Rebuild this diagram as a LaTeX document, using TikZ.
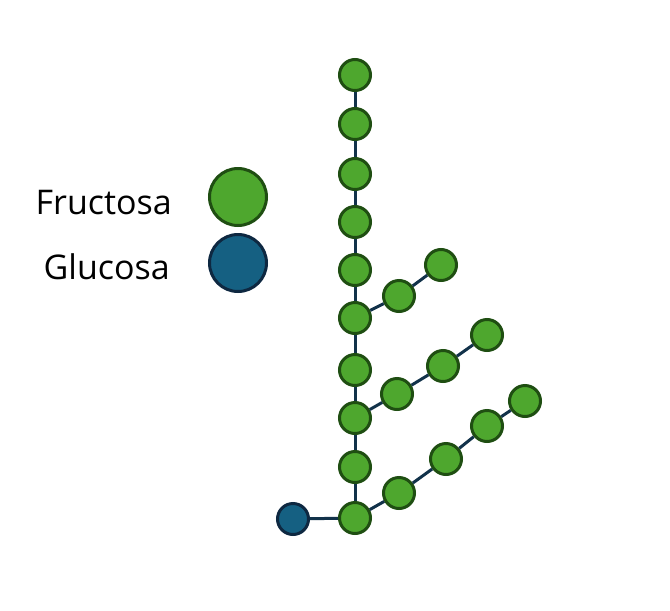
\documentclass[tikz,border=0pt]{standalone}
\usepackage{fontspec}
\setmainfont{Open Sans}
\definecolor{fru}{HTML}{4EA72E}
\definecolor{fruline}{HTML}{1F4E12}
\definecolor{glu}{HTML}{156082}
\definecolor{gluline}{HTML}{0E2841}
\definecolor{bond}{HTML}{12324A}
\begin{document}
\begin{tikzpicture}[x=1pt,y=-1pt,
  fr/.style={circle,fill=fru,draw=fruline,line width=3pt,minimum size=31pt,inner sep=0pt},
  gl/.style={circle,fill=glu,draw=gluline,line width=3pt,minimum size=31pt,inner sep=0pt},
  frbig/.style={fr,minimum size=57pt},
  glbig/.style={gl,minimum size=57pt},
  bondline/.style={draw=bond,line width=3pt},
  lab/.style={font=\fontsize{34}{40}\selectfont,anchor=base east,inner sep=0pt}]
\useasboundingbox (0,0) rectangle (670,611);
% legend
\node[frbig] (lf) at (238,197) {};
\node[glbig] (lg) at (238,263) {};
\node[lab] (tf) at (172,214) {Fructosa};
\node[lab] (tg) at (170,279) {Glucosa};
% main chain
\foreach \i/\y in {1/75,2/124,3/174,4/222,5/270,6/318,7/370,8/418,9/467,10/518}
  \node[fr] (m\i) at (355,\y) {};
\node[gl] (g) at (293,519) {};
% branches
\node[fr] (a1) at (399,296) {};
\node[fr] (a2) at (441,265) {};
\node[fr] (b1) at (397,394) {};
\node[fr] (b2) at (443,366) {};
\node[fr] (b3) at (487,335) {};
\node[fr] (c1) at (399,493) {};
\node[fr] (c2) at (446,459) {};
\node[fr] (c3) at (487,426) {};
\node[fr] (c4) at (525,401) {};
% bonds
\foreach \a/\b in {m1/m2,m2/m3,m3/m4,m4/m5,m5/m6,m6/m7,m7/m8,m8/m9,m9/m10,
  g/m10,m6/a1,a1/a2,m8/b1,b1/b2,b2/b3,m10/c1,c1/c2,c2/c3,c3/c4}
  \draw[bondline] (\a) -- (\b);
\end{tikzpicture}
\end{document}
